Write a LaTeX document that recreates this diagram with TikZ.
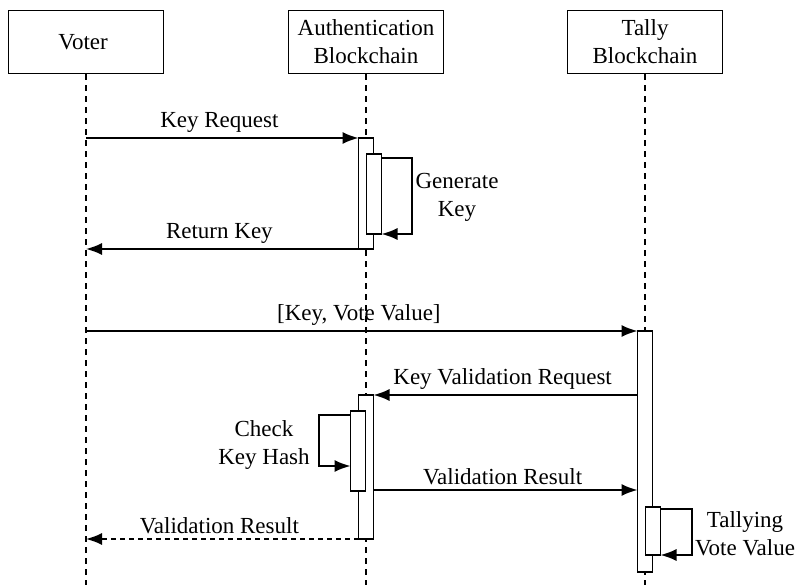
\documentclass[tikz,border=0pt]{standalone}
\usepackage{fontspec}
\setmainfont{Liberation Serif}
\usetikzlibrary{positioning, arrows.meta}

\begin{document}
\begin{tikzpicture}[x = 1pt, y = -1pt, line width = 1.6pt,
    every node/.style = { font = \fontsize{23}{28}\selectfont, align = center },
    actor/.style = { draw, minimum width = 155pt, minimum height = 63pt, inner sep = 0pt },
    bar/.style = { draw, fill = white, minimum width = 15pt, inner sep = 0pt, outer sep = 0pt, anchor = north },
    life/.style = { dash pattern = on 6pt off 5pt, line width = 1.2pt },
    msg/.style = { -{Latex[length = 16pt, width = 12pt]} },
    reply/.style = { msg, dash pattern = on 5pt off 4pt }]
  \useasboundingbox (0,0) rectangle (796,585);

  % heads of the lifelines
  \node [actor] (voter) at (86,42) { Voter };
  \node [actor] (auth) at (366,42) { Authentication \\ Blockchain };
  \node [actor] (tally) at (645,42) { Tally \\ Blockchain };

  \draw [life] (voter.south) -- (86,585);
  \draw [life] (auth.south) -- (366,585);
  \draw [life] (tally.south) -- (645,585);

  % activations
  \node [bar, minimum height = 111pt] (auth1) at (366,138) {};
  \node [bar, minimum height = 80pt] (gen) at (374,154) {};
  \node [bar, minimum height = 241pt] (tal1) at (645,331) {};
  \node [bar, minimum height = 144pt] (auth2) at (366,395) {};
  \node [bar, minimum height = 80pt] (chk) at (358,411) {};
  \node [bar, minimum height = 48pt] (tly) at (653,507) {};

  \coordinate (v1) at (86,138);
  \coordinate (v2) at (86,249);
  \coordinate (v3) at (86,331);
  \coordinate (v4) at (86,539);

  % messages
  \draw [msg] (v1) -- (auth1.north west) node [midway, above = 1pt] { Key Request };
  \draw [msg] (gen.north east) ++(0,4) -| (412,234) -- (gen.south east);
  \node (genlbl) at (457,197) { Generate \\ Key };
  \draw [msg] (auth1.south west) -- (v2) node [midway, above = 1pt] { Return Key };

  \draw [msg] (v3) -- (tal1.north west) node [midway, above = 1pt] { [Key, Vote Value] };
  \draw [msg] (tal1.west |- auth2.north east) -- (auth2.north east)
    node [midway, above = 1pt] { Key Validation Request };
  \draw [msg] (chk.north west) ++(0,4) -| (319,466) -- (chk.west |- 0,466);
  \node (chklbl) at (264,445) { Check \\ Key Hash };
  \draw [msg] (auth2.east |- 0,490) -- (tal1.west |- 0,490)
    node [midway, above = 1pt] { Validation Result };
  \draw [reply] (auth2.south west) -- (v4) node [midway, above = 1pt] { Validation Result };

  \draw [msg] (tly.north east) ++(0,2) -| (692,555) -- (tly.south east);
  \node (tlylbl) at (745,534) { Tallying \\ Vote Value };
\end{tikzpicture}
\end{document}
